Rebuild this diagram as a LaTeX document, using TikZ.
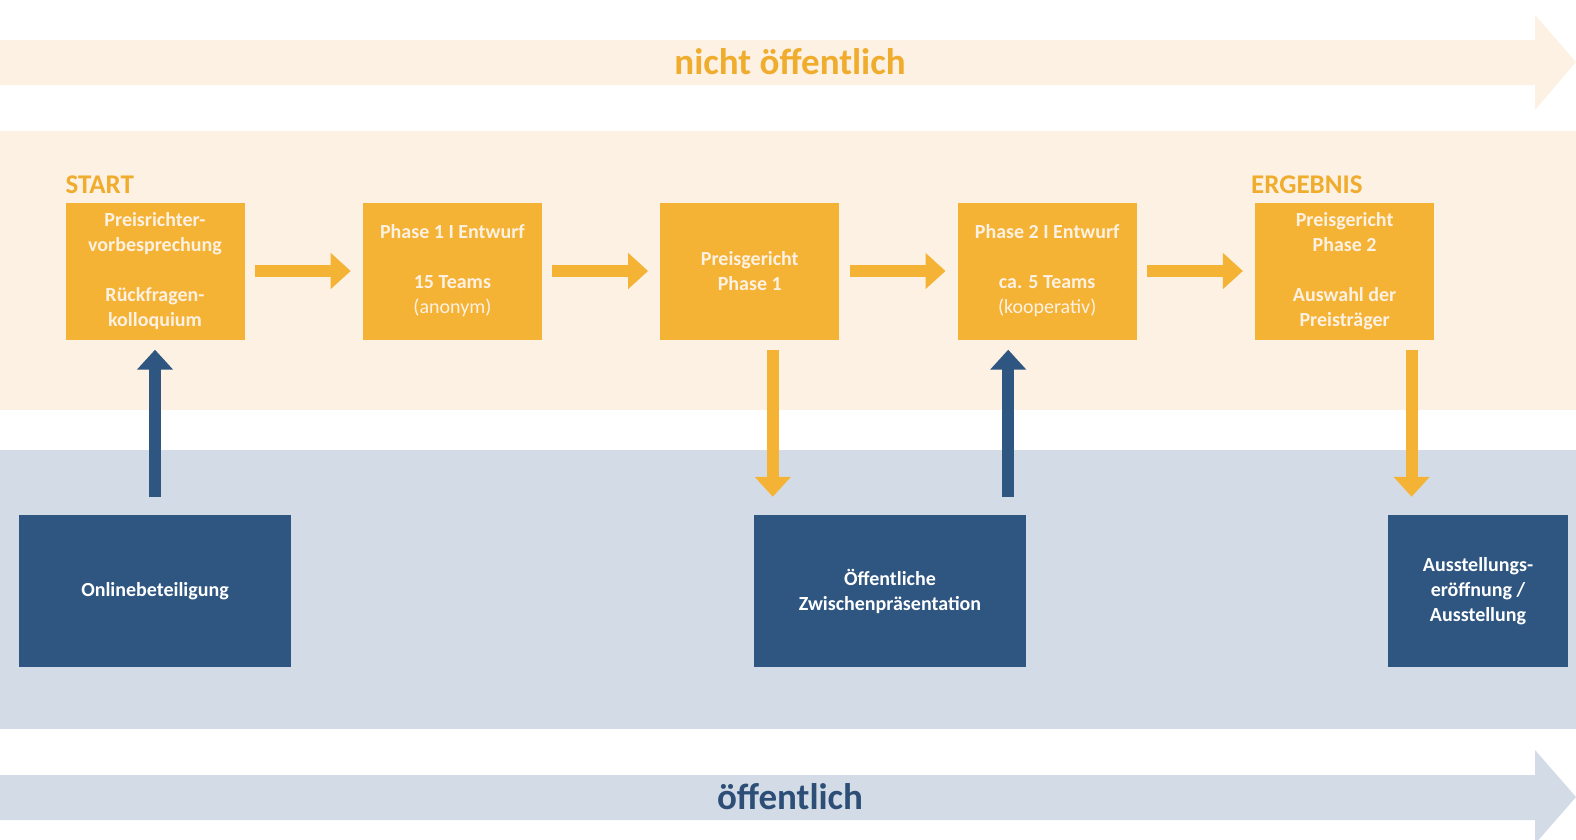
\documentclass[tikz,border=0pt]{standalone}
\usepackage{fontspec}
\setmainfont{Carlito}
\usetikzlibrary{positioning,arrows.meta}
\definecolor{gelb}{HTML}{F5B335}
\definecolor{creme}{HTML}{FDF1E3}
\definecolor{hellblau}{HTML}{D3DCE6}
\definecolor{dunkelblau}{HTML}{2F5581}
\definecolor{textgelb}{HTML}{F0AC2C}
\definecolor{textblau}{HTML}{2C4E77}

\begin{document}
\begin{tikzpicture}[
  x=1pt, y=-1pt,
  font=\fontsize{20}{25}\selectfont\bfseries,
  kasten/.style={fill=gelb, text=creme, align=center, minimum width=179pt, minimum height=137pt, inner sep=0pt},
  blaukasten/.style={fill=dunkelblau, text=white, align=center, minimum height=152pt, inner sep=0pt},
  pfeil/.style={line width=12pt, -{Triangle[width=35pt,length=20pt]}},
  marke/.style={font=\fontsize{27}{30}\selectfont\bfseries, text=textgelb, anchor=base west, inner sep=0pt},
  titel/.style={font=\fontsize{37}{40}\selectfont\bfseries, inner sep=0pt}
]
  \useasboundingbox (0,0) rectangle (1576,839);
  % Hintergrund
  \fill[creme] (0,40) -- (1535,40) -- (1535,15) -- (1576,62) -- (1535,110) -- (1535,85) -- (0,85) -- cycle;
  \fill[creme] (0,131) rectangle (1576,410);
  \fill[hellblau] (0,450) rectangle (1576,729);
  \fill[hellblau] (0,775) -- (1535,775) -- (1535,750) -- (1576,797) -- (1535,844) -- (1535,820) -- (0,820) -- cycle;
  \node[titel, text=textgelb] (nicht) at (790,62) {nicht öffentlich};
  \node[titel, text=textblau] (oeff) at (790,797) {öffentlich};

  % nicht oeffentlicher Ablauf
  \node[kasten] (vorb) at (155,271) {Preisrichter-\\vorbesprechung\\[25pt]Rückfragen-\\kolloquium};
  \node[kasten, right=118pt of vorb] (phase1) {Phase 1 I Entwurf\\[25pt]15 Teams\\{\mdseries (anonym)}};
  \node[kasten, right=118pt of phase1] (jury1) {Preisgericht\\Phase 1};
  \node[kasten, right=118pt of jury1] (phase2) {Phase 2 I Entwurf\\[25pt]ca. 5 Teams\\{\mdseries (kooperativ)}};
  \node[kasten, right=118pt of phase2] (jury2) {Preisgericht\\Phase 2\\[25pt]Auswahl der\\Preisträger};
  \node[marke] (start) at ([yshift=9pt]vorb.north west) {START};
  \node[marke] (ergebnis) at ([xshift=-4pt,yshift=9pt]jury2.north west) {ERGEBNIS};

  \draw[pfeil, gelb, shorten <=10pt, shorten >=12pt] (vorb) -- (phase1);
  \draw[pfeil, gelb, shorten <=10pt, shorten >=12pt] (phase1) -- (jury1);
  \draw[pfeil, gelb, shorten <=10pt, shorten >=12pt] (jury1) -- (phase2);
  \draw[pfeil, gelb, shorten <=10pt, shorten >=12pt] (phase2) -- (jury2);

  % oeffentliche Beteiligung
  \node[blaukasten, minimum width=272pt] (online) at (155,591) {Onlinebeteiligung};
  \node[blaukasten, minimum width=272pt] (zwischen) at (890,591) {Öffentliche\\Zwischenpräsentation};
  \node[blaukasten, minimum width=180pt] (ausst) at (1478,591) {Ausstellungs-\\eröffnung /\\Ausstellung};

  \coordinate (p1) at ([xshift=23pt]jury1.south);
  \coordinate (p2) at ([xshift=-39pt]phase2.south);
  \coordinate (p3) at ([xshift=67pt]jury2.south);
  \draw[pfeil, dunkelblau, shorten <=18pt, shorten >=10pt] (online) -- (vorb);
  \draw[pfeil, gelb, shorten <=10pt, shorten >=18pt] (p1) -- (p1 |- zwischen.north);
  \draw[pfeil, dunkelblau, shorten <=18pt, shorten >=10pt] (p2 |- zwischen.north) -- (p2);
  \draw[pfeil, gelb, shorten <=10pt, shorten >=18pt] (p3) -- (p3 |- ausst.north);
\end{tikzpicture}
\end{document}
